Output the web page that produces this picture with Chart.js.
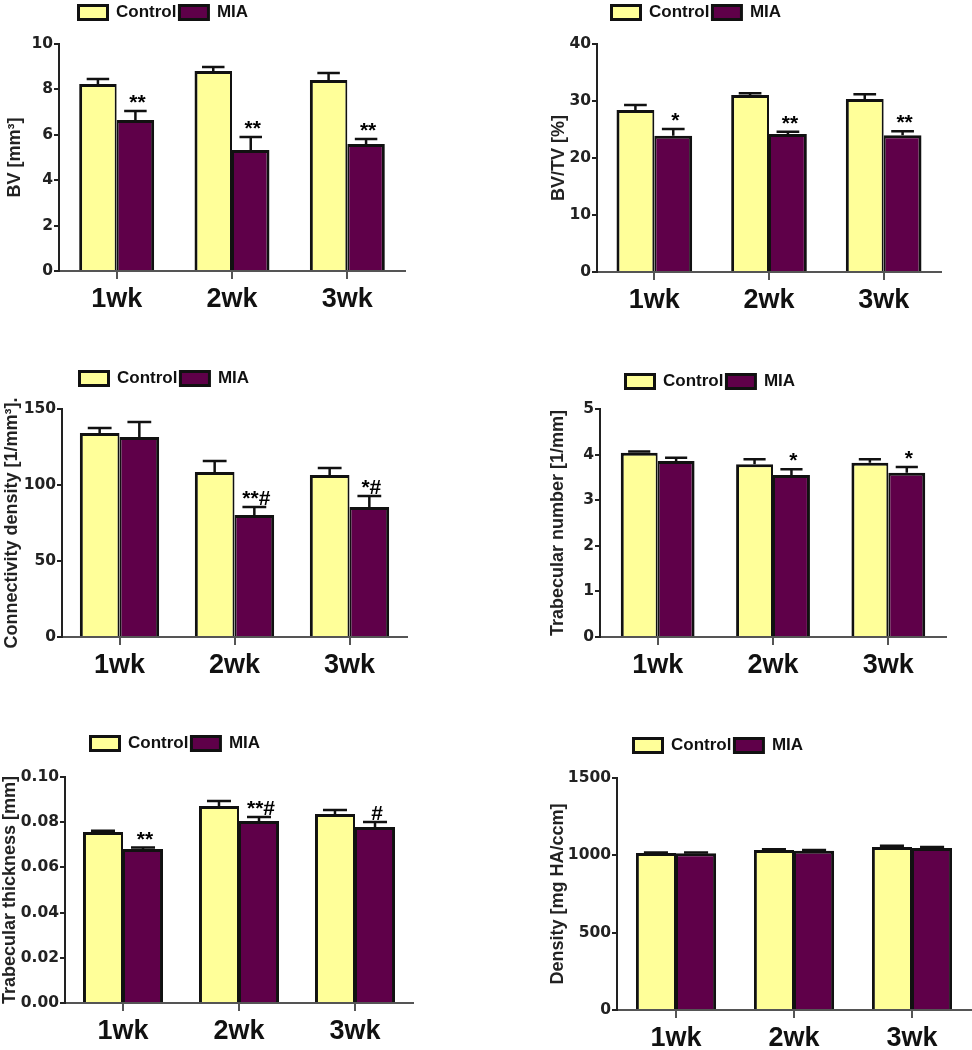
<!DOCTYPE html>
<html>
<head>
<meta charset="utf-8">
<script src="https://cdn.jsdelivr.net/npm/chart.js@4.4.0/dist/chart.umd.min.js"></script>
<style>
  body { margin: 0; background: #fff; width: 972px; height: 1050px; overflow: hidden; position: relative; }
  .panel { position: absolute; }
</style>
</head>
<body>
<script>
const weeks = ['1wk', '2wk', '3wk'];
const groups = ['Control', 'MIA'];

// BV [mm3]
const bvControl = [8.24, 8.81, 8.41];
const bvControlSem = [0.22, 0.18, 0.31];
const bvMia = [6.65, 5.33, 5.59];
const bvMiaSem = [0.40, 0.57, 0.22];
const bvMarks = ['**', '**', '**'];

// BV/TV [%]
const bvtvControl = [28.4, 31.05, 30.35];
const bvtvControlSem = [0.9, 0.3, 0.85];
const bvtvMia = [23.9, 24.2, 24.0];
const bvtvMiaSem = [1.2, 0.4, 0.7];
const bvtvMarks = ['*', '**', '**'];

// Connectivity density
const connControl = [134.2, 108.6, 106.6];
const connControlSem = [3.3, 7.2, 4.6];
const connMia = [131.6, 80.3, 85.5];
const connMiaSem = [9.8, 5.2, 7.3];
const connMarks = ['', '**#', '*#'];

// Trabecular number
const tbnControl = [4.04, 3.79, 3.82];
const tbnControlSem = [0.03, 0.11, 0.08];
const tbnMia = [3.86, 3.55, 3.60];
const tbnMiaSem = [0.07, 0.13, 0.13];
const tbnMarks = ['', '*', '*'];

// Trabecular thickness
const tbthControl = [0.0757, 0.0872, 0.0836];
const tbthControlSem = [0.0005, 0.0022, 0.0018];
const tbthMia = [0.0681, 0.0805, 0.0779];
const tbthMiaSem = [0.0007, 0.0018, 0.0022];
const tbthMarks = ['**', '**#', '#'];

// Density
const densControl = [1015, 1035, 1054];
const densControlSem = [4, 4, 8];
const densMia = [1013, 1030, 1047];
const densMiaSem = [5, 4, 7];
const densMarks = ['', '', ''];

const yellow = '#FFFF99';
const purple = '#5F0049';
const ink = '#111';

const panels = [
  { L: 0, T: 0, axisX: 59, right: 405, top: 44, bottom: 271, legX: 77, legY: 4, cat: 0.65,
    max: 10, step: 2, dec: 0, title: 'BV [mm³]',
    c: bvControl, cs: bvControlSem, m: bvMia, ms: bvMiaSem, marks: bvMarks },
  { L: 544, T: 0, axisX: 597, right: 941, top: 44, bottom: 272, legX: 610, legY: 4, cat: 0.66,
    max: 40, step: 10, dec: 0, title: 'BV/TV [%]',
    c: bvtvControl, cs: bvtvControlSem, m: bvtvMia, ms: bvtvMiaSem, marks: bvtvMarks },
  { L: -3, T: 365, axisX: 62, right: 407, top: 409, bottom: 637, legX: 78, legY: 370, cat: 0.69,
    max: 150, step: 50, dec: 0, title: 'Connectivity density [1/mm³].',
    c: connControl, cs: connControlSem, m: connMia, ms: connMiaSem, marks: connMarks },
  { L: 543, T: 365, axisX: 600, right: 946, top: 409, bottom: 637, legX: 624, legY: 373, cat: 0.64,
    max: 5, step: 1, dec: 0, title: 'Trabecular number [1/mm]',
    c: tbnControl, cs: tbnControlSem, m: tbnMia, ms: tbnMiaSem, marks: tbnMarks },
  { L: -5, T: 733, axisX: 65, right: 413, top: 777, bottom: 1003, legX: 89, legY: 735, cat: 0.69,
    max: 0.1, step: 0.02, dec: 2, title: 'Trabecular thickness [mm]',
    c: tbthControl, cs: tbthControlSem, m: tbthMia, ms: tbthMiaSem, marks: tbthMarks },
  { L: 543, T: 734, axisX: 617, right: 971, top: 778, bottom: 1010, legX: 632, legY: 737, cat: 0.68,
    max: 1500, step: 500, dec: 0, title: 'Density [mg HA/ccm]',
    c: densControl, cs: densControlSem, m: densMia, ms: densMiaSem, marks: densMarks },
];

// moves the legend so its first box starts at (x, y) in canvas pixels
function legendPlacer(x, y) {
  return {
    id: 'legendPlacer',
    beforeDraw(chart) {
      const lg = chart.legend;
      const pad = lg.options.labels.padding;
      const w = lg.right - lg.left;
      const h = lg.bottom - lg.top;
      lg.left = x + 1.5 - pad;
      lg.right = lg.left + w;
      lg.top = y + 1.5 - 1.5 - pad;
      lg.bottom = lg.top + h;
    },
  };
}

const errorBars = {
  id: 'errorBars',
  afterDatasetsDraw(chart) {
    const ctx = chart.ctx;
    const yScale = chart.scales.y;
    ctx.save();
    ctx.strokeStyle = ink;
    ctx.fillStyle = '#000';
    ctx.lineWidth = 2.5;
    ctx.font = 'bold 21px "Liberation Sans", Arial, sans-serif';
    ctx.textAlign = 'center';
    ctx.textBaseline = 'alphabetic';
    chart.data.datasets.forEach((ds, i) => {
      chart.getDatasetMeta(i).data.forEach((bar, j) => {
        const top = yScale.getPixelForValue(ds.data[j] + ds.sem[j]);
        const cap = bar.width * 0.3;
        ctx.beginPath();
        ctx.moveTo(bar.x, bar.y);
        ctx.lineTo(bar.x, top);
        ctx.moveTo(bar.x - cap, top);
        ctx.lineTo(bar.x + cap, top);
        ctx.stroke();
        if (ds.marks && ds.marks[j]) ctx.fillText(ds.marks[j], bar.x + 2, top - 2);
      });
    });
    ctx.restore();
  },
};

panels.forEach((p) => {
  const W = p.right - p.L + 12;
  const H = p.bottom - p.T + 50;
  const div = document.createElement('div');
  div.className = 'panel';
  div.style.left = p.L + 'px';
  div.style.top = p.T + 'px';
  const canvas = document.createElement('canvas');
  canvas.width = W;
  canvas.height = H;
  div.appendChild(canvas);
  document.body.appendChild(div);

  new Chart(canvas, {
    type: 'bar',
    data: {
      labels: weeks,
      datasets: [
        {
          label: groups[0],
          data: p.c,
          sem: p.cs,
          backgroundColor: yellow,
          borderColor: ink,
          borderWidth: { top: 3, left: 3, right: 2, bottom: 0 },
          categoryPercentage: p.cat,
          barPercentage: 1,
        },
        {
          label: groups[1],
          data: p.m,
          sem: p.ms,
          marks: p.marks,
          backgroundColor: purple,
          borderColor: ink,
          borderWidth: { top: 3, left: 2, right: 3, bottom: 0 },
          categoryPercentage: p.cat,
          barPercentage: 1,
        },
      ],
    },
    options: {
      responsive: false,
      animation: false,
      devicePixelRatio: 1,
      layout: { padding: { top: p.top - p.T - 30, left: 0, right: 12, bottom: 0 } },
      plugins: {
        tooltip: { enabled: false },
        legend: {
          position: 'top',
          align: 'start',
          labels: {
            boxWidth: 29,
            boxHeight: 14,
            padding: 3,
            color: ink,
            font: { family: '"Liberation Sans", Arial, sans-serif', size: 17, weight: 'bold' },
            generateLabels(chart) {
              return Chart.defaults.plugins.legend.labels.generateLabels(chart)
                .map((item) => ({ ...item, lineWidth: 3 }));
            },
          },
        },
      },
      scales: {
        x: {
          afterFit(scale) { scale.height = 50; },
          grid: { offset: false, drawOnChartArea: false, tickLength: 8, color: '#555', lineWidth: 2 },
          border: { color: '#555', width: 2 },
          ticks: {
            color: ink,
            padding: 4,
            font: { family: '"Liberation Sans", Arial, sans-serif', size: 27, weight: 'bold' },
          },
        },
        y: {
          min: 0,
          max: p.max,
          afterFit(scale) { scale.width = p.axisX - p.L; },
          grid: { drawOnChartArea: false, tickLength: 5, color: '#222', lineWidth: 2 },
          border: { color: '#222', width: 2 },
          ticks: {
            stepSize: p.step,
            color: '#222',
            padding: 1,
            font: { family: '"DejaVu Sans", sans-serif', size: 15.5, weight: 'bold' },
            callback: (v) => Number(v).toFixed(p.dec),
          },
          title: {
            display: true,
            text: p.title,
            color: '#222',
            padding: { top: 4, bottom: 0 },
            font: { family: '"Liberation Sans", Arial, sans-serif', size: 18, weight: 'bold' },
          },
        },
      },
    },
    plugins: [legendPlacer(p.legX - p.L, p.legY - p.T), errorBars],
  });
});
</script>
</body>
</html>
